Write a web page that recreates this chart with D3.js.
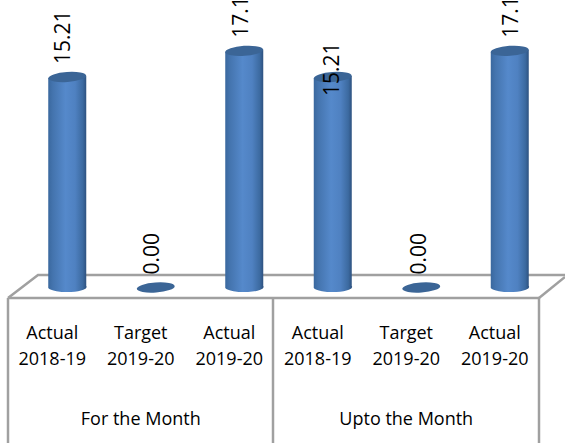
<!DOCTYPE html>
<html>
<head>
<meta charset="utf-8">
<script src="https://cdn.jsdelivr.net/npm/d3@7"></script>
<style>
  html, body { margin: 0; padding: 0; background: #fff; }
  svg { display: block; }
  text { font-family: "Open Sans", sans-serif; fill: #000; }
</style>
</head>
<body>
<div id="chart"></div>
<script>
let measure = ['Actual', 'Target', 'Actual', 'Actual', 'Target', 'Actual'];
let years = ['2018-19', '2019-20', '2019-20', '2018-19', '2019-20', '2019-20'];
let groups = ['For the Month', 'Upto the Month'];
let values = [15.21, 0, 17.1, 15.21, 0, 17.1];
// nudges of the data labels as they sit in the picture
let label_dx = [-5, -5, -4, -2, -3, 0];
let label_dy = [0, 0, 0, 32, 0, 0];

let width = 565, height = 443;
let svg = d3.select('#chart').append('svg').attr('width', width).attr('height', height);

let floor_front = 298, floor_back = 275, depth = 30;
let x = d3.scaleBand().domain(d3.range(6)).range([8, 539]);
let x_group = d3.scaleBand().domain(groups).range([8, 539]);
let y = d3.scaleLinear().domain([0, 15.21]).range([287.5, 77]);

let defs = svg.append('defs');
let grad = defs.append('linearGradient').attr('id', 'cyl');
[[0, '#3a689e'], [0.12, '#4474ae'], [0.45, '#5589cb'], [0.7, '#4f81c1'], [0.9, '#3c6aa0'], [1, '#2c4f7c']].forEach(d => {
  grad.append('stop').attr('offset', d[0]).attr('stop-color', d[1]);
});

// floor and table frame
let grid = '#a0a0a0';
let floor = svg.append('g').attr('fill', 'none').attr('stroke', grid).attr('stroke-width', 2.5);
floor.append('path').attr('d', d3.line()([[8, floor_front], [8 + depth, floor_back], [565, floor_back]]));
floor.append('path').attr('d', d3.line()([[539, floor_front], [565, floor_back + 2]]));
floor.append('path').attr('d', d3.line()([[8, floor_front], [539, floor_front]]));
[8, 273, 539].forEach(v => {
  floor.append('line').attr('x1', v).attr('x2', v).attr('y1', floor_front).attr('y2', height);
});

let rx = 19, ry = 5, tilt = -4;
let bars = svg.append('g').selectAll('g').data(values).enter().append('g')
  .attr('transform', (d, i) => 'translate(' + (x(i) + x.bandwidth() / 2 + depth / 2) + ',0)');

bars.filter(d => d > 0).append('path')
  .attr('d', d => {
    let top = y(d), bot = y(0);
    return 'M' + (-rx) + ',' + (top + 1) + 'L' + (-rx) + ',' + (bot + 0.5)
      + 'A' + rx + ',' + ry + ' 0 0 0 ' + rx + ',' + (bot - 1.5)
      + 'L' + rx + ',' + (top - 1) + 'Z';
  })
  .attr('fill', 'url(#cyl)');

bars.append('ellipse')
  .attr('cy', d => y(d))
  .attr('rx', rx).attr('ry', ry)
  .attr('transform', d => 'rotate(' + tilt + ',0,' + y(d) + ')')
  .attr('fill', '#3b6596');

// data labels, rotated
bars.append('text')
  .attr('transform', (d, i) => 'translate(' + (label_dx[i] + 8) + ',' + (y(d) - 13 + label_dy[i]) + ') rotate(-90)')
  .style('font-size', '21px')
  .text(d => d.toFixed(2));

// category labels
let cats = svg.append('g').attr('font-size', 18).attr('text-anchor', 'middle')
  .selectAll('g').data(measure).enter().append('g')
  .attr('transform', (d, i) => 'translate(' + (x(i) + x.bandwidth() / 2) + ',0)');
cats.append('text').attr('y', 338.5).text(d => d);
cats.append('text').attr('y', 364.5).text((d, i) => years[i]);

svg.append('g').attr('font-size', 18).attr('text-anchor', 'middle')
  .selectAll('text').data(groups).enter().append('text')
  .attr('x', d => x_group(d) + x_group.bandwidth() / 2)
  .attr('y', 425)
  .text(d => d);
</script>
</body>
</html>
